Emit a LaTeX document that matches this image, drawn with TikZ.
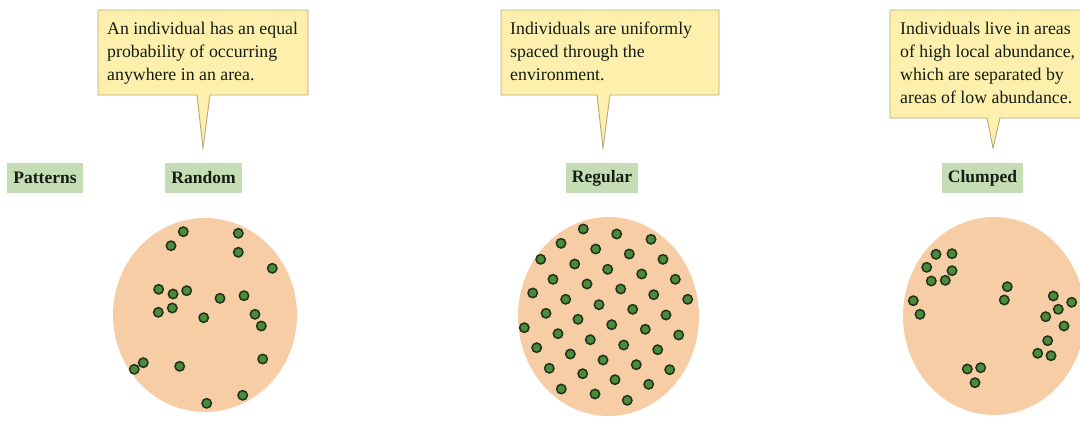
\documentclass[tikz,border=0pt]{standalone}
\usepackage{fontspec}
\setmainfont{Liberation Serif}
\definecolor{calloutfill}{HTML}{FCF0AC}
\definecolor{calloutline}{HTML}{B8A97E}
\definecolor{labelfill}{HTML}{C5DDB4}
\definecolor{peach}{HTML}{F7CDA6}
\definecolor{dotgreen}{HTML}{4B8B3B}
\definecolor{dotdark}{HTML}{1E331B}
\definecolor{txt}{HTML}{141C14}
\begin{document}
\begin{tikzpicture}[x=1pt,y=-1pt,
  callout/.style={fill=calloutfill, draw=calloutline, line width=0.9pt, line join=miter},
  ctext/.style={anchor=north west, inner sep=0pt, align=left, font=\fontsize{17.8}{23}\selectfont, text=txt},
  tag/.style={fill=labelfill, inner xsep=6pt, inner ysep=0pt, minimum height=30pt, font=\fontsize{17.5}{21}\selectfont\bfseries, text=txt},
  area/.style={fill=peach},
  dot/.style={fill=dotgreen, draw=dotdark, line width=1.5pt}]
\useasboundingbox (0,0) rectangle (1080,434);
\clip (0,0) rectangle (1080,434);

% callouts
\path[callout] (98,10) -- (308,10) -- (308,95) -- (210,95) -- (203,148) -- (197,95) -- (98,95) -- cycle;
\node[ctext] (c1) at (107,22) {An individual has an equal\\probability of occurring\\anywhere in an area.};
\path[callout] (501,10) -- (719,10) -- (719,95) -- (610,95) -- (603,148) -- (597,95) -- (501,95) -- cycle;
\node[ctext] (c2) at (510,22) {Individuals are uniformly\\spaced through the\\environment.};
\path[callout] (890,10) -- (1090,10) -- (1090,118) -- (1000,118) -- (993,148) -- (987,118) -- (890,118) -- cycle;
\node[ctext] (c3) at (900,22) {Individuals live in areas\\of high local abundance,\\which are separated by\\areas of low abundance.};

% labels
\node[tag] (patterns) at (45,178) {Patterns};
\node[tag] (random) at (203.5,178) {Random};
\node[tag] (regular) at (602,178) {Regular};
\node[tag] (clumped) at (982.5,178) {Clumped};

% areas
\fill[area] (205,315) ellipse [x radius=92, y radius=97];
\fill[area] (608.5,316.5) ellipse [x radius=90.5, y radius=99.5];
\fill[area] (994,316) ellipse [x radius=91, y radius=99];

% random dots
\foreach \x/\y in {183.3/231.7, 238.3/233.3, 171/245.7, 238.3/252.3, 272.3/268.3,
  158.7/289.3, 173/294, 186.7/290.7, 220/298.3, 244/295.7, 158.3/312.3, 172.3/308,
  203.7/317.7, 255/314.3, 261.3/326, 262.7/359, 143.3/362.7, 134.3/369.3,
  179.7/366.3, 242.7/395.3, 206.7/403.3}
  \draw[dot] (\x,\y) circle (4.7);

% regular dots
\foreach \x/\y in {583.3/229, 616.7/234, 651/239.3, 561/243.3, 595.7/249, 629.3/254,
  663/259.3, 540.7/259.3, 574.7/264, 607.7/269.3, 641.7/274, 675.3/279.3, 553/279.3,
  587/284, 620.7/289, 653.7/294.7, 687.7/299.3, 532.7/293, 565.7/299.3, 599/304.7,
  632.7/309.3, 666/315, 546/313.3, 578/319.3, 611.7/324.7, 645.3/329.3, 678.7/335,
  524.3/327.7, 558/333.7, 590.3/339.7, 623.7/345, 657.7/349.7, 536.7/347.7,
  570.3/354, 603/360, 636.3/364.7, 669.7/369.7, 549.3/368.3, 582.7/373.7,
  615/379.7, 648.7/384.3, 561.3/389, 595/394, 627.3/400.3}
  \draw[dot] (\x,\y) circle (4.7);

% clumped dots
\foreach \x/\y in {936/254.3, 952/253.7, 926.7/267.3, 952/270.7, 931.3/281, 945.3/280.3,
  1007.3/286.7, 1004.3/300, 913.3/300.7, 920/314.3, 1053.3/296, 1071.7/302.3,
  1058.3/309.3, 1045.7/316.7, 1064/326, 1047.7/340.7, 1037.7/353.3, 1051/355.7,
  967.3/369, 980.7/367.7, 975/382.7}
  \draw[dot] (\x,\y) circle (4.7);
\end{tikzpicture}
\end{document}
